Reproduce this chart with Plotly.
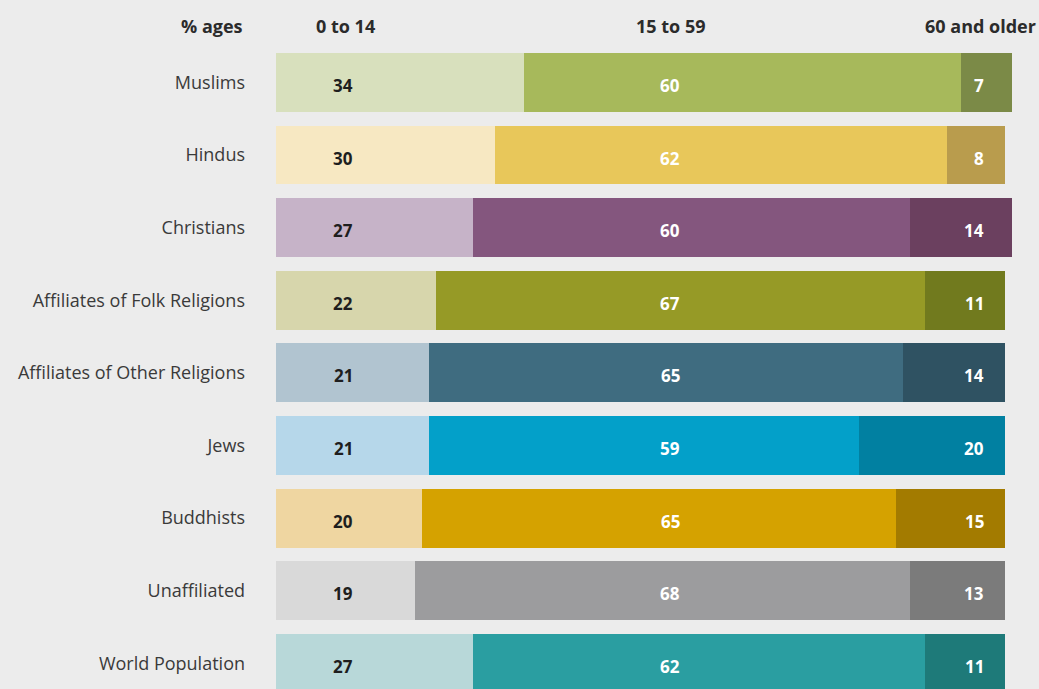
import plotly.graph_objects as go

# age structure by religion, % of each group
religions = ["Muslims", "Hindus", "Christians", "Affiliates of Folk Religions",
             "Affiliates of Other Religions", "Jews", "Buddhists", "Unaffiliated",
             "World Population"]
age_0_14 = [34, 30, 27, 22, 21, 21, 20, 19, 27]
age_15_59 = [60, 62, 60, 67, 65, 59, 65, 68, 62]
age_60_up = [7, 8, 14, 11, 14, 20, 15, 13, 11]
headers = ["0 to 14", "15 to 59", "60 and older"]

light = ["#d8e0bd", "#f7e8c2", "#c6b3c8", "#d7d6ac", "#b1c4d0",
         "#b6d7ea", "#efd6a1", "#d9d9d9", "#b8d8d9"]
mid = ["#a7b95b", "#e8c75a", "#84567e", "#969a26", "#3f6c80",
       "#03a0c9", "#d5a200", "#9c9c9e", "#2a9ea1"]
dark = ["#7b8a47", "#b99c4d", "#6b405f", "#717a1e", "#2f5262",
        "#0180a1", "#a37b00", "#7b7b7b", "#1e7a79"]

BG = "#ececec"
FONT = "Open Sans"

fig = go.Figure()
for vals, cols in [(age_0_14, light), (age_15_59, mid), (age_60_up, dark)]:
    fig.add_trace(go.Bar(
        y=religions, x=vals, orientation="h",
        marker=dict(color=cols, line=dict(width=0)),
        hoverinfo="x+y",
    ))

# value labels sit in fixed columns
val_size = 17
for i, r in enumerate(religions):
    fig.add_annotation(x=9.2, y=r, yshift=-3, text=f"<b>{age_0_14[i]}</b>", showarrow=False,
                       xanchor="center", font=dict(family=FONT, size=val_size, color="#1e1e1e"))
    fig.add_annotation(x=54.05, y=r, yshift=-3, text=f"<b>{age_15_59[i]}</b>", showarrow=False,
                       xanchor="center", font=dict(family=FONT, size=val_size, color="#ffffff"))
    fig.add_annotation(x=97.4, y=r, yshift=-3, text=f"<b>{age_60_up[i]}</b>", showarrow=False,
                       xanchor="right", font=dict(family=FONT, size=val_size, color="#ffffff"))

# column headers
hdr_font = dict(family=FONT, size=18, color="#2b2b2b")
hdr_y = -0.78
fig.add_annotation(x=-0.0406, xref="paper", y=hdr_y, text="<b>% ages</b>",
                   showarrow=False, xanchor="right", font=hdr_font)
fig.add_annotation(x=5.2, y=hdr_y, text=f"<b>{headers[0]}</b>", showarrow=False, xanchor="left", font=hdr_font)
fig.add_annotation(x=54.05, y=hdr_y, text=f"<b>{headers[1]}</b>", showarrow=False, xanchor="center", font=hdr_font)
fig.add_annotation(x=104.5, y=hdr_y, text=f"<b>{headers[2]}</b>", showarrow=False, xanchor="right", font=hdr_font)

fig.update_xaxes(range=[0, 104.66], visible=False, fixedrange=True)
fig.update_yaxes(
    categoryorder="array", categoryarray=religions,
    range=[8.354, -1.136], showgrid=False, zeroline=False, showline=False,
    ticks="", ticklabelstandoff=30,
    tickfont=dict(family=FONT, size=18, color="#3a3a3a"),
    fixedrange=True,
)
fig.update_layout(
    barmode="stack", bargap=0.19, showlegend=False,
    width=1039, height=689,
    margin=dict(l=276, r=0, t=0, b=0),
    plot_bgcolor=BG, paper_bgcolor=BG,
)

fig.write_html("out.html", config={"displayModeBar": False},
               post_script="document.body.style.margin='0';document.body.style.overflow='hidden';")
